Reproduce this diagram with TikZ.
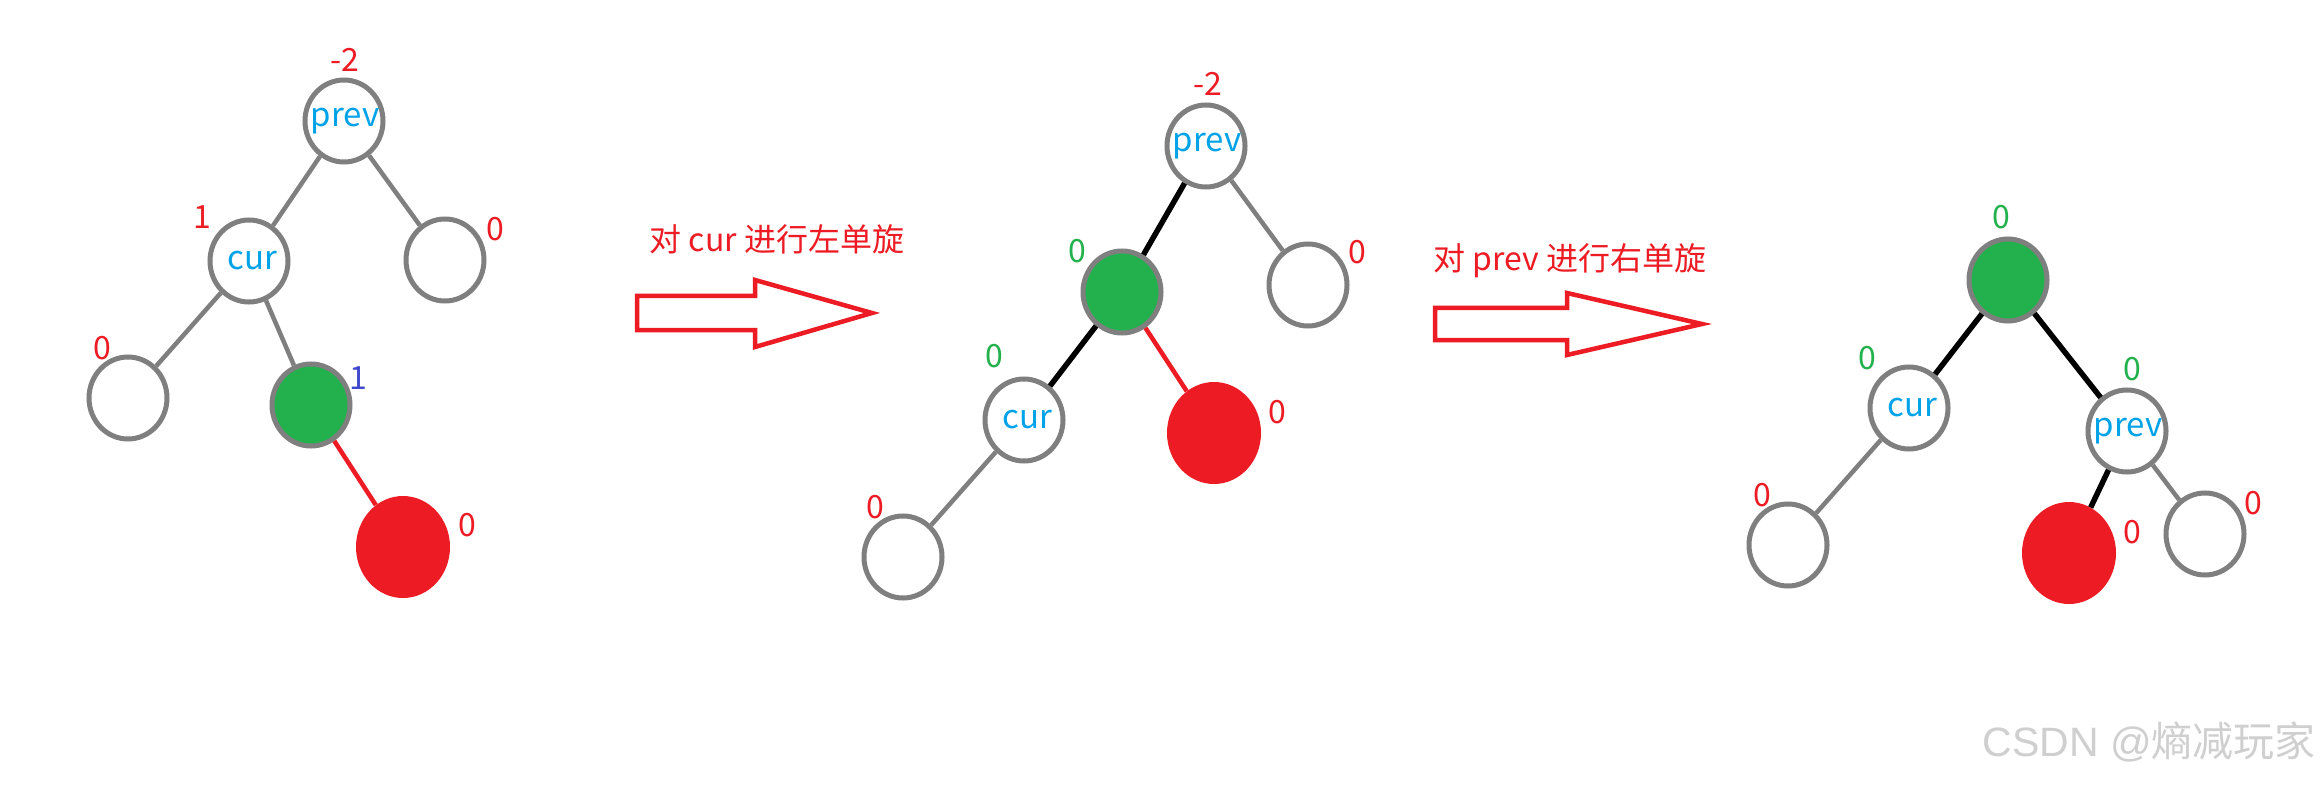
\documentclass[tikz,border=0pt]{standalone}
\usepackage{fontspec}
\setmainfont{Noto Sans CJK SC}
\newfontfamily\wmlatin{Liberation Sans}
\newfontfamily\wmcjk{Noto Sans CJK SC}
\usetikzlibrary{shapes.geometric}
\definecolor{nodegray}{HTML}{7F7F7F}
\definecolor{pgreen}{HTML}{22B14C}
\definecolor{pred}{HTML}{ED1C24}
\definecolor{pblue}{HTML}{00A2E8}
\definecolor{pindigo}{HTML}{3F48CC}
\definecolor{wmgray}{HTML}{CFCFCF}
\newcommand{\curtext}{\raisebox{-6pt}{\makebox[0pt]{\kern7pt cur}}}
\newcommand{\prevtext}{\raisebox{-1pt}{\makebox[0pt]{\kern2pt prev}}}
\tikzset{
  tnode/.style={ellipse, draw=nodegray, line width=5pt, fill=white,
    minimum width=78pt, minimum height=82pt, inner sep=0pt, text=pblue,
    font=\fontsize{33}{33}\selectfont},
  gnode/.style={tnode, fill=pgreen},
  rnode/.style={ellipse, fill=pred, draw=none, minimum width=94pt,
    minimum height=102pt, inner sep=0pt},
  num/.style={font=\fontsize{32}{32}\selectfont, inner sep=0pt},
  rnum/.style={num, text=pred},
  gnum/.style={num, text=pgreen},
  bnum/.style={num, text=pindigo},
  gedge/.style={draw=nodegray, line width=4.5pt},
  bedge/.style={draw=black, line width=5.5pt},
  redge/.style={draw=pred, line width=4.5pt},
  bigarrow/.style={draw=pred, line width=4.5pt, line join=miter},
  caption/.style={text=pred, font=\fontsize{32}{32}\selectfont, inner sep=0pt},
}
\begin{document}
\begin{tikzpicture}[x=1pt, y=-1pt]
\fill[white] (0,0) rectangle (2321,786);
\useasboundingbox (0,0) rectangle (2321,786);

% ---------- Tree 1 ----------
\node[tnode] (p1) at (344,121) {\prevtext};
\node[tnode] (c1) at (249,261) {\curtext};
\node[tnode] (r1) at (445,260) {};
\node[tnode] (l1) at (128,398) {};
\node[gnode] (g1) at (311,405) {};
\node[rnode] (x1) at (403,547) {};
\draw[gedge] (p1) -- (c1);
\draw[gedge] (p1) -- (r1);
\draw[gedge] (c1) -- (l1);
\draw[gedge] (c1) -- (g1);
\draw[redge] (g1) -- (x1);
\node[rnum] (n1a) at (345,60) {-2};
\node[rnum] (n1b) at (202,217) {1};
\node[rnum] (n1c) at (495,229) {0};
\node[rnum] (n1d) at (102,348) {0};
\node[bnum] (n1e) at (358,378) {1};
\node[rnum] (n1f) at (467,525) {0};

% ---------- Arrow 1 ----------
\node[caption] (t1) at (777,239) {对 cur 进行左单旋};
\draw[bigarrow] (637,296) -- (755,296) -- (755,280) -- (872,313) -- (755,347) -- (755,330) -- (637,330) -- cycle;

% ---------- Tree 2 ----------
\node[tnode] (p2) at (1206,146) {\prevtext};
\node[tnode] (r2) at (1308,285) {};
\node[gnode] (g2) at (1122,292) {};
\node[tnode] (c2) at (1024,420) {\curtext};
\node[rnode] (x2) at (1214,433) {};
\node[tnode] (l2) at (903,557) {};
\draw[bedge] (p2) -- (g2);
\draw[gedge] (p2) -- (r2);
\draw[bedge] (g2) -- (c2);
\draw[redge] (g2) -- (x2);
\draw[gedge] (c2) -- (l2);
\node[rnum] (n2a) at (1208,84) {-2};
\node[rnum] (n2b) at (1357,252) {0};
\node[gnum] (n2c) at (1077,251) {0};
\node[gnum] (n2d) at (994,356) {0};
\node[rnum] (n2e) at (1277,412) {0};
\node[rnum] (n2f) at (875,507) {0};

% ---------- Arrow 2 ----------
\node[caption] (t2) at (1570,261) {对 prev 进行右单旋};
\draw[bigarrow] (1435,308) -- (1567,308) -- (1567,293) -- (1702,324) -- (1567,355) -- (1567,340) -- (1435,340) -- cycle;

% ---------- Tree 3 ----------
\node[gnode] (g3) at (2008,280) {};
\node[tnode] (c3) at (1909,408) {\curtext};
\node[tnode] (p3) at (2127,431) {\prevtext};
\node[tnode] (l3) at (1788,545) {};
\node[rnode] (x3) at (2069,553) {};
\node[tnode] (r3) at (2205,534) {};
\draw[bedge] (g3) -- (c3);
\draw[bedge] (g3) -- (p3);
\draw[bedge] (p3) -- (x3);
\draw[gedge] (c3) -- (l3);
\draw[gedge] (p3) -- (r3);
\node[gnum] (n3a) at (2001,217) {0};
\node[gnum] (n3b) at (1867,358) {0};
\node[gnum] (n3c) at (2132,369) {0};
\node[rnum] (n3d) at (1762,495) {0};
\node[rnum] (n3e) at (2132,532) {0};
\node[rnum] (n3f) at (2253,503) {0};

% ---------- Watermark ----------
\node[text=wmgray, inner sep=0pt, anchor=east] (wm) at (2316,742)
  {\fontsize{41}{41}\selectfont\wmlatin CSDN @\wmcjk 熵减玩家};
\end{tikzpicture}
\end{document}
